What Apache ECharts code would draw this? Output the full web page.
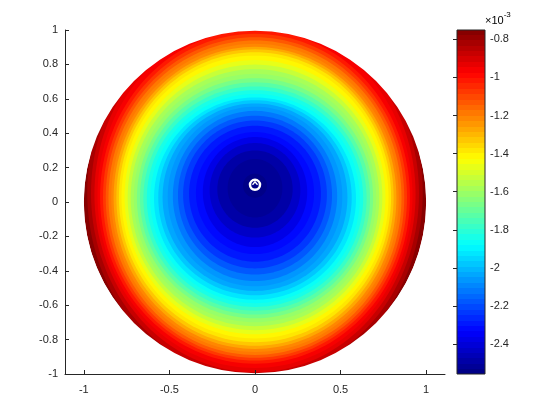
<!DOCTYPE html>
<html>
<head>
<meta charset="utf-8">
<script src="https://cdn.jsdelivr.net/npm/echarts@6/dist/echarts.min.js"></script>
<style>
  html, body { margin: 0; padding: 0; background: #fff; }
  #main { width: 560px; height: 420px; }
</style>
</head>
<body>
<div id="main"></div>
<script>
// contour levels (x1e-3), outer -> inner
const levels = [-0.80, -0.85, -0.90, -0.95, -1.00, -1.05, -1.10, -1.15, -1.20, -1.25, -1.30, -1.35,
  -1.40, -1.45, -1.50, -1.55, -1.60, -1.65, -1.70, -1.75, -1.80, -1.85, -1.90, -1.95,
  -2.00, -2.05, -2.10, -2.15, -2.20, -2.25, -2.30, -2.35, -2.40, -2.45, -2.50, -2.54]
// half width of each contour, and its top / bottom y
const halfWidth = [0.98, 0.958, 0.938, 0.92, 0.905, 0.888, 0.872, 0.856, 0.84, 0.826, 0.81, 0.795,
  0.78, 0.762, 0.744, 0.726, 0.708, 0.69, 0.672, 0.652, 0.632, 0.612, 0.59, 0.565,
  0.54, 0.51, 0.48, 0.45, 0.42, 0.385, 0.345, 0.305, 0.265, 0.22, 0.16, 0.07]
const topY = [1.17, 1.12, 1.08, 1.04, 1.0, 0.978, 0.958, 0.939, 0.92, 0.902, 0.888, 0.871,
  0.851, 0.825, 0.799, 0.772, 0.745, 0.72, 0.696, 0.672, 0.65, 0.628, 0.608, 0.592,
  0.573, 0.554, 0.53, 0.502, 0.474, 0.443, 0.407, 0.378, 0.343, 0.30, 0.25, 0.165]
const bottomY = [-1.06, -1.02, -0.99, -0.965, -0.94, -0.922, -0.906, -0.889, -0.872, -0.854, -0.836, -0.815,
  -0.793, -0.769, -0.745, -0.722, -0.699, -0.676, -0.654, -0.632, -0.61, -0.588, -0.568, -0.542,
  -0.517, -0.49, -0.46, -0.422, -0.386, -0.347, -0.303, -0.262, -0.207, -0.15, -0.09, 0.025]
const edgeValue = -0.775      // between the unit circle and the outermost contour
const diskRadius = 1
const markerPos = [0, 0.1]

const xTicks = [-1, -0.5, 0, 0.5, 1]
const cbMin = -2.557
const cbMax = -0.751
const cbTicks = [-2.4, -2.2, -2, -1.8, -1.6, -1.4, -1.2, -1, -0.8]

// jet colormap, 64 steps like matlab
function jet(t) {
  const c = v => Math.round(Math.max(0, Math.min(1, v)) * 255)
  return 'rgb(' + c(1.5 - Math.abs(4 * t - 3)) + ',' + c(1.5 - Math.abs(4 * t - 2)) + ',' + c(1.5 - Math.abs(4 * t - 1)) + ')'
}
function colorOf(v) {
  let k = Math.floor((v - cbMin) / (cbMax - cbMin) * 64)
  k = Math.max(0, Math.min(63, k))
  return jet((k + 0.5) / 64)
}

function ellipse(api, cx, cy, rx, ry) {
  const pts = []
  for (let i = 0; i < 160; i++) {
    const a = i / 160 * Math.PI * 2
    pts.push(api.coord([cx + rx * Math.cos(a), cy + ry * Math.sin(a)]))
  }
  return pts
}

const contourData = levels.map((lv, i) => [lv, halfWidth[i], topY[i], bottomY[i]])

const cbStops = []
for (let k = 0; k < 64; k++) {
  const col = jet((k + 0.5) / 64)
  cbStops.push({offset: k / 64, color: col}, {offset: (k + 1) / 64, color: col})
}

const axisColor = '#262626'
const labelFont = {color: axisColor, fontSize: 11, fontFamily: 'Liberation Sans, Arial, sans-serif'}

const chart = echarts.init(document.getElementById('main'))
chart.setOption({
  animation: false,
  grid: [
    {left: 65, top: 30, width: 380, height: 344},
    {left: 457, top: 30, width: 28, height: 344}
  ],
  xAxis: [
    {
      gridIndex: 0, type: 'value', min: -1.11, max: 1.11, z: 10,
      splitLine: {show: false},
      axisLine: {onZero: false, lineStyle: {color: axisColor, width: 1}},
      axisTick: {inside: true, length: 4, lineStyle: {color: axisColor}, customValues: xTicks},
      axisLabel: Object.assign({margin: 10, customValues: xTicks, formatter: v => String(v)}, labelFont)
    },
    {gridIndex: 1, type: 'value', min: 0, max: 1, show: false}
  ],
  yAxis: [
    {
      gridIndex: 0, type: 'value', min: -1, max: 1, interval: 0.2, z: 10,
      splitLine: {show: false},
      axisLine: {show: true, onZero: false, lineStyle: {color: axisColor, width: 1}},
      axisTick: {show: true, inside: true, length: 4, lineStyle: {color: axisColor}},
      axisLabel: Object.assign({margin: 7, formatter: v => String(Math.round(v * 10) / 10)}, labelFont)
    },
    {
      gridIndex: 1, type: 'value', min: cbMin, max: cbMax, position: 'right', z: 10,
      splitLine: {show: false},
      axisLine: {show: false},
      axisTick: {show: true, inside: true, length: 4, lineStyle: {color: axisColor}, customValues: cbTicks},
      axisLabel: Object.assign({margin: 5, customValues: cbTicks, formatter: v => String(v)}, labelFont)
    }
  ],
  graphic: [{
    type: 'text', left: 485, top: 11,
    style: {
      text: '{a|×10}{b|-3}',
      rich: {
        a: {fontSize: 11, color: '#4d4d4d', fontFamily: 'Liberation Sans', padding: [6, 0, 0, 0]},
        b: {fontSize: 8, color: '#4d4d4d', fontFamily: 'Liberation Sans', padding: [0, 0, 5, 0]}
      }
    }
  }],
  series: [
    { // disc
      type: 'custom', xAxisIndex: 0, yAxisIndex: 0, z: 2, clip: true,
      data: [[0, 0, diskRadius, edgeValue]],
      renderItem: (params, api) => ({
        type: 'polygon',
        shape: {points: ellipse(api, api.value(0), api.value(1), api.value(2), api.value(2))},
        style: {fill: colorOf(api.value(3))}
      })
    },
    { // filled contours
      type: 'custom', xAxisIndex: 0, yAxisIndex: 0, z: 2, clip: true,
      data: contourData,
      renderItem: (params, api) => {
        const lv = api.value(0), rx = api.value(1), top = api.value(2), bot = api.value(3)
        return {
          type: 'polygon',
          shape: {points: ellipse(api, 0, (top + bot) / 2, rx, (top - bot) / 2)},
          style: {fill: colorOf(lv - 0.025)}
        }
      }
    },
    { // white outside the unit circle
      type: 'custom', xAxisIndex: 0, yAxisIndex: 0, z: 3, clip: true,
      data: [[0, 0, diskRadius]],
      renderItem: (params, api) => {
        const c = api.coord([api.value(0), api.value(1)])
        const s = api.size([api.value(2), api.value(2)])
        return {
          type: 'ring',
          shape: {cx: c[0], cy: c[1], r0: s[0], r: s[0] * 1.4},
          style: {fill: '#fff'}
        }
      }
    },
    { // marker
      type: 'scatter', xAxisIndex: 0, yAxisIndex: 0, z: 4,
      data: [markerPos],
      symbol: 'circle', symbolSize: 10,
      itemStyle: {color: 'rgba(0,0,0,0)', borderColor: '#fff', borderWidth: 2.5, opacity: 1}
    },
    {
      type: 'scatter', xAxisIndex: 0, yAxisIndex: 0, z: 4,
      data: [markerPos],
      symbol: 'path://M0,10 L10,0 L20,10', symbolSize: [5, 3], symbolOffset: [0, -1.5],
      itemStyle: {color: 'rgba(0,0,0,0)', borderColor: '#fff', borderWidth: 1.2, opacity: 1}
    },
    { // colorbar
      type: 'custom', xAxisIndex: 1, yAxisIndex: 1, z: 2,
      data: [[0, cbMin, 1, cbMax]],
      renderItem: (params, api) => {
        const p1 = api.coord([api.value(0), api.value(3)])
        const p2 = api.coord([api.value(2), api.value(1)])
        return {
          type: 'rect',
          shape: {x: p1[0], y: p1[1], width: p2[0] - p1[0], height: p2[1] - p1[1]},
          style: {
            fill: new echarts.graphic.LinearGradient(0, 1, 0, 0, cbStops),
            stroke: axisColor, lineWidth: 1
          }
        }
      }
    }
  ]
})
</script>
</body>
</html>
